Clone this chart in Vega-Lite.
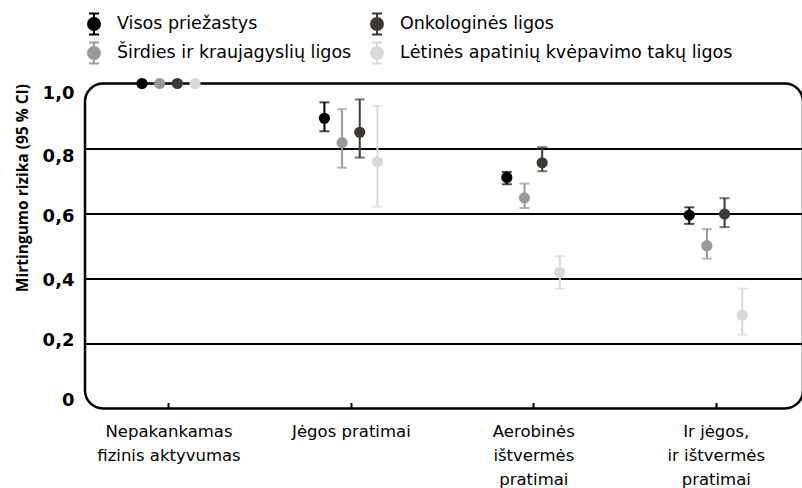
{
  "$schema": "https://vega.github.io/schema/vega-lite/v6.json",
  "autosize": {"type": "none"},
  "padding": {"left": 85, "top": 83.5, "right": 0, "bottom": 79.5},
  "width": 718,
  "height": 325,
  "background": "white",
  "config": {
    "font": "DejaVu Sans",
    "view": {"stroke": "black", "strokeWidth": 2.5, "cornerRadius": 18},
    "axis": {"labelColor": "black", "titleColor": "black"}
  },
  "data": {
    "values": [
      {"cat": "Nepakankamas fizinis aktyvumas", "series": "Visos priežastys", "value": 1, "lo": null, "hi": null},
      {"cat": "Nepakankamas fizinis aktyvumas", "series": "Širdies ir kraujagyslių ligos", "value": 1, "lo": null, "hi": null},
      {"cat": "Nepakankamas fizinis aktyvumas", "series": "Onkologinės ligos", "value": 1, "lo": null, "hi": null},
      {"cat": "Nepakankamas fizinis aktyvumas", "series": "Lėtinės apatinių kvėpavimo takų ligos", "value": 1, "lo": null, "hi": null},
      {"cat": "Jėgos pratimai", "series": "Visos priežastys", "value": 0.893, "lo": 0.853, "hi": 0.942},
      {"cat": "Jėgos pratimai", "series": "Širdies ir kraujagyslių ligos", "value": 0.818, "lo": 0.741, "hi": 0.921},
      {"cat": "Jėgos pratimai", "series": "Onkologinės ligos", "value": 0.85, "lo": 0.772, "hi": 0.951},
      {"cat": "Jėgos pratimai", "series": "Lėtinės apatinių kvėpavimo takų ligos", "value": 0.759, "lo": 0.621, "hi": 0.931},
      {"cat": "Aerobinės ištvermės pratimai", "series": "Visos priežastys", "value": 0.711, "lo": 0.69, "hi": 0.728},
      {"cat": "Aerobinės ištvermės pratimai", "series": "Širdies ir kraujagyslių ligos", "value": 0.648, "lo": 0.617, "hi": 0.692},
      {"cat": "Aerobinės ištvermės pratimai", "series": "Onkologinės ligos", "value": 0.756, "lo": 0.73, "hi": 0.804},
      {"cat": "Aerobinės ištvermės pratimai", "series": "Lėtinės apatinių kvėpavimo takų ligos", "value": 0.419, "lo": 0.369, "hi": 0.469},
      {"cat": "Ir jėgos, ir ištvermės pratimai", "series": "Visos priežastys", "value": 0.595, "lo": 0.568, "hi": 0.619},
      {"cat": "Ir jėgos, ir ištvermės pratimai", "series": "Širdies ir kraujagyslių ligos", "value": 0.501, "lo": 0.461, "hi": 0.552},
      {"cat": "Ir jėgos, ir ištvermės pratimai", "series": "Onkologinės ligos", "value": 0.598, "lo": 0.558, "hi": 0.647},
      {"cat": "Ir jėgos, ir ištvermės pratimai", "series": "Lėtinės apatinių kvėpavimo takų ligos", "value": 0.287, "lo": 0.227, "hi": 0.369}
    ]
  },
  "encoding": {
    "x": {
      "field": "cat", "type": "nominal", "sort": null,
      "scale": {
        "type": "point", "padding": 0.468, "align": 0.489,
        "domain": ["Nepakankamas fizinis aktyvumas", "Jėgos pratimai", "Aerobinės ištvermės pratimai", "Ir jėgos, ir ištvermės pratimai"]
      },
      "axis": {
        "title": null, "domain": false, "grid": false,
        "labelAngle": 0, "labelFontSize": 16.5, "labelColor": "black",
        "labelLineHeight": 24, "labelPadding": 21, "labelBaseline": "top",
        "tickSize": -6, "tickWidth": 2, "tickColor": "black",
        "labelExpr": "datum.label == 'Nepakankamas fizinis aktyvumas' ? ['Nepakankamas', 'fizinis aktyvumas'] : datum.label == 'Aerobinės ištvermės pratimai' ? ['Aerobinės', 'ištvermės', 'pratimai'] : datum.label == 'Ir jėgos, ir ištvermės pratimai' ? ['Ir jėgos,', 'ir ištvermės', 'pratimai'] : datum.label"
      }
    },
    "xOffset": {
      "field": "series", "type": "nominal",
      "sort": ["Visos priežastys", "Širdies ir kraujagyslių ligos", "Onkologinės ligos", "Lėtinės apatinių kvėpavimo takų ligos"],
      "scale": {"type": "point", "range": [-26.5, 26.5], "padding": 0}
    },
    "color": {
      "field": "series", "type": "nominal",
      "scale": {
        "domain": ["Visos priežastys", "Onkologinės ligos", "Širdies ir kraujagyslių ligos", "Lėtinės apatinių kvėpavimo takų ligos"],
        "range": ["#000000", "#3e3935", "#999999", "#d9d9d9"]
      },
      "legend": {
        "title": null, "orient": "none", "legendX": -2.5, "legendY": -71,
        "direction": "horizontal", "columns": 2, "padding": 0,
        "columnPadding": 14, "rowPadding": 0,
        "symbolType": "M-0.48,-1H0.48M0,-1V1M-0.48,1H0.48M0.57,0A0.57,0.57,0,1,1,-0.57,0A0.57,0.57,0,1,1,0.57,0Z",
        "symbolSize": 441, "symbolStrokeWidth": 2, "symbolOpacity": 1,
        "labelFontSize": 17.5, "labelColor": "black", "labelOffset": 11.5, "labelLimit": 400,
        "encode": {"symbols": {"update": {"stroke": {"scale": "color", "field": "value"}, "fill": {"scale": "color", "field": "value"}}}}
      }
    }
  },
  "layer": [
    {
      "mark": {"type": "rule", "strokeWidth": 2},
      "encoding": {
        "y": {"field": "lo", "type": "quantitative"},
        "y2": {"field": "hi"}
      }
    },
    {
      "mark": {"type": "tick", "thickness": 2, "size": 10, "orient": "horizontal"},
      "encoding": {"y": {"field": "lo", "type": "quantitative"}}
    },
    {
      "mark": {"type": "tick", "thickness": 2, "size": 10, "orient": "horizontal"},
      "encoding": {"y": {"field": "hi", "type": "quantitative"}}
    },
    {
      "mark": {"type": "point", "filled": true, "opacity": 1, "size": 125, "shape": "circle"},
      "encoding": {
        "y": {
          "field": "value", "type": "quantitative",
          "scale": {"domain": [0, 1], "nice": false, "zero": true},
          "axis": {
            "title": "Mirtingumo rizika (95 % CI)",
            "titleFont": "Open Sans", "titleFontSize": 15.5, "titleFontWeight": "bold", "titleAnchor": "end", "titlePadding": 12,
            "values": [0, 0.2, 0.4, 0.6, 0.8, 1],
            "labelExpr": "datum.value == 0 ? '0' : replace(format(datum.value, '.1f'), '.', ',')",
            "labelFontSize": 18, "labelFontWeight": "bold", "labelPadding": 11,
            "labelOffset": {"condition": [
              {"test": "datum.value == 1", "value": 10},
              {"test": "datum.value == 0.8", "value": 8},
              {"test": "datum.value == 0.6", "value": 3},
              {"test": "datum.value == 0.4", "value": 1.5},
              {"test": "datum.value == 0.2", "value": -3.5},
              {"test": "datum.value == 0", "value": -8.5}
            ], "value": 0},
            "domain": false, "ticks": false,
            "grid": true, "gridColor": "black", "gridWidth": 2,
            "gridOpacity": {"condition": {"test": "datum.value == 0 || datum.value == 1", "value": 0}, "value": 1}
          }
        }
      }
    }
  ]
}
